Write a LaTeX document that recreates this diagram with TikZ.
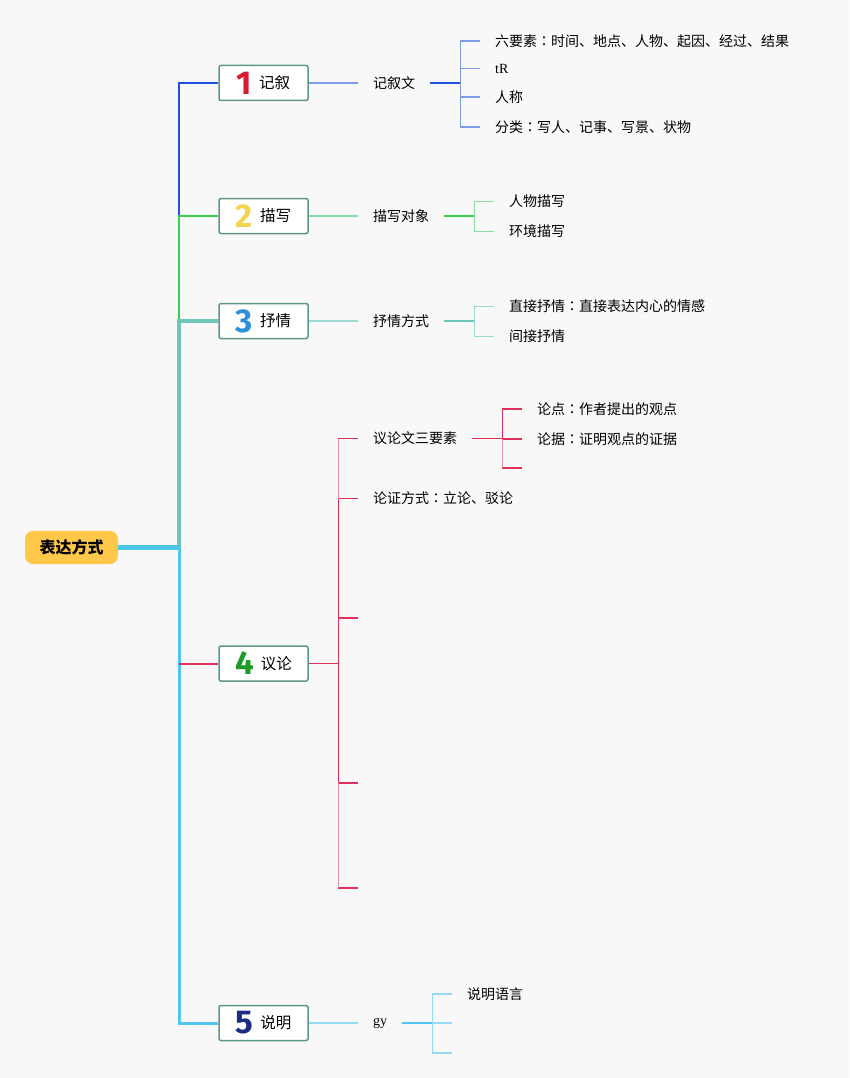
\documentclass[tikz,border=0pt]{standalone}
\usepackage{fontspec}
\usetikzlibrary{positioning}
\newfontfamily\cjk{Noto Sans CJK SC}
\newfontfamily\jp{Noto Sans CJK JP}
\newfontfamily\numfont{Fira Sans}
\newfontfamily\serif{Liberation Serif}
\definecolor{bg}{HTML}{F8F8F8}
\definecolor{boxc}{HTML}{5E9688}
\definecolor{rootc}{HTML}{FFC84A}
\definecolor{rootl}{HTML}{4CC6E6}
\definecolor{n1}{HTML}{D8192F}
\definecolor{n2}{HTML}{F4D350}
\definecolor{n3}{HTML}{2C90DC}
\definecolor{n4}{HTML}{1E9A28}
\definecolor{n5}{HTML}{1C2C84}
\definecolor{c1}{HTML}{2050E0}
\definecolor{c1l}{HTML}{7C9CE4}
\definecolor{c2}{HTML}{3CCF4E}
\definecolor{c2l}{HTML}{86DCA2}
\definecolor{c3}{HTML}{6EC6B8}
\definecolor{c3l}{HTML}{9ADAD0}
\definecolor{c4}{HTML}{E0305A}
\definecolor{c4l}{HTML}{E890A8}
\definecolor{c5}{HTML}{52C6F0}
\definecolor{c5l}{HTML}{94DAF2}
\newcommand\badge[2]{\raisebox{-5.5pt}{\numfont\bfseries\fontsize{33}{33}\selectfont\color{#1}#2}\hspace{7pt}}
\newcommand\fwcolon{{\jp ：}}

\begin{document}
\begin{tikzpicture}[x=1pt,y=-1pt,
  root/.style={fill=rootc,rounded corners=8pt,minimum width=93pt,minimum height=33pt,inner sep=0pt,font=\cjk\bfseries\fontsize{16}{18}\selectfont},
  topic/.style={draw=boxc,fill=white,line width=1.5pt,rounded corners=2pt,minimum width=89pt,minimum height=35pt,inner sep=0pt,font=\cjk\fontsize{15.5}{17}\selectfont},
  leaf/.style={anchor=west,inner xsep=15pt,inner ysep=0pt,font=\cjk\fontsize{14}{16}\selectfont},
  thin/.style={line width=1.3pt}]

\fill [bg] (0,0) rectangle (849,1078);
\useasboundingbox (0,0) rectangle (849,1078);

% root and topics
\node [root] (r) at (71.5,547.5) {表达方式};
\coordinate (j) at (179,547.5);

\node [topic] (t1) at (263.5,83) {\badge{n1}{1}记叙};
\node [topic] (t2) at (263.5,216) {\badge{n2}{2}描写};
\node [topic] (t3) at (263.5,321) {\badge{n3}{3}抒情};
\node [topic] (t4) at (263.5,663.5) {\badge{n4}{4}议论};
\node [topic] (t5) at (263.5,1023) {\badge{n5}{5}说明};

% trunk
\draw [c1,line width=2pt] (t1.west) -| (j |- t2.west);
\draw [c2,line width=2pt] (t2.west) -| (j |- t3.west);
\draw [c5,line width=3pt] (t5.west) -| (j);
\draw [c3,line width=4.5pt] (t3.west) -| ([yshift=-1pt]j);
\draw [c4,line width=2pt] (t4.west) -- (j |- t4.west);
\draw [rootl,line width=5pt] (r.east) -- (j);

% 1
\node [leaf] (k1) at (358,83) {记叙文};
\coordinate [right=30pt of k1.east] (b1);
\node [leaf] (l11) at (480,41) {六要素\fwcolon 时间、地点、人物、起因、经过、结果};
\node [leaf] (l12) at (480,68.5) {\serif tR};
\node [leaf] (l13) at (480,97) {人称};
\node [leaf] (l14) at (480,127) {分类\fwcolon 写人、记事、写景、状物};
\draw [c1l,thin] (t1.east) -- (k1.west);
\draw [c1,thin] (k1.east) -- (b1);
\foreach \n in {l11,l12,l13,l14}
  \draw [c1l,thin] (b1) |- (\n.west);

% 2
\node [leaf] (k2) at (358,216) {描写对象};
\coordinate [right=30pt of k2.east] (b2);
\node [leaf] (l21) at (494,201.5) {人物描写};
\node [leaf] (l22) at (494,231.5) {环境描写};
\draw [c2l,thin] (t2.east) -- (k2.west);
\draw [c2,thin] (k2.east) -- (b2);
\foreach \n in {l21,l22}
  \draw [c2l,thin] (b2) |- (\n.west);

% 3
\node [leaf] (k3) at (358,321) {抒情方式};
\coordinate [right=30pt of k3.east] (b3);
\node [leaf] (l31) at (494,306.5) {直接抒情\fwcolon 直接表达内心的情感};
\node [leaf] (l32) at (494,336.5) {间接抒情};
\draw [c3l,thin] (t3.east) -- (k3.west);
\draw [c3,thin] (k3.east) -- (b3);
\foreach \n in {l31,l32}
  \draw [c3l,thin] (b3) |- (\n.west);

% 4
\coordinate [right=30pt of t4.east] (b4);
\node [leaf] (k41) at (358,438.5) {议论文三要素};
\node [leaf] (k42) at (358,498.5) {论证方式\fwcolon 立论、驳论};
\coordinate (e41) at (358,618);
\coordinate (e42) at (358,783);
\coordinate (e43) at (358,888);
\draw [c4,thin] (t4.east) -- (b4);
\foreach \n in {k41.west,k42.west,e41,e42,e43}
  \draw [c4,thin] (b4) |- (\n);
\draw [c4l,thin] (b4 |- k41.west) -- (b4 |- k42.west);
\draw [c4l,thin] (b4 |- e42) -- (b4 |- e43);

\coordinate [right=30pt of k41.east] (b41);
\node [leaf] (l41) at (522,409) {论点\fwcolon 作者提出的观点};
\node [leaf] (l42) at (522,439) {论据\fwcolon 证明观点的证据};
\coordinate (e44) at (522,468);
\draw [c4,thin] (k41.east) -- (b41);
\foreach \n in {l41.west,l42.west,e44}
  \draw [c4,thin] (b41) |- (\n);
\draw [c4l,thin] (b41) -- (b41 |- e44);

% 5
\node [leaf] (k5) at (358,1023) {\serif gy};
\coordinate [right=30pt of k5.east] (b5);
\node [leaf] (l51) at (452,994) {说明语言};
\coordinate (e51) at (452,1023);
\coordinate (e52) at (452,1053);
\draw [c5l,thin] (t5.east) -- (k5.west);
\draw [c5,thin] (k5.east) -- (b5);
\foreach \n in {l51.west,e51,e52}
  \draw [c5l,thin] (b5) |- (\n);

\end{tikzpicture}
\end{document}
